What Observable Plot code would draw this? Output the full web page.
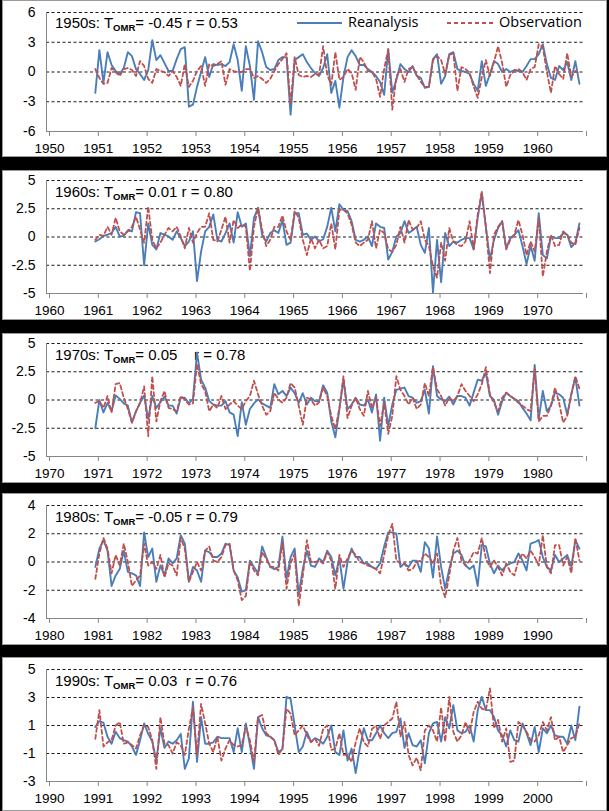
<!DOCTYPE html>
<html><head><meta charset="utf-8">
<script src="https://cdn.jsdelivr.net/npm/d3@7"></script>
<script src="https://cdn.jsdelivr.net/npm/@observablehq/plot@0.6"></script>
<style>
html,body{margin:0;padding:0;background:#000;}
#root{position:relative;width:609px;height:811px;background:#000;overflow:hidden;}
.panel{position:absolute;left:2px;width:605px;background:#fff;box-shadow:inset 0 0 0 1px #9a9a9a;}
.panel svg{position:absolute;left:0;top:0;z-index:1;}
.ttl{position:absolute;z-index:0;font:15px "Liberation Sans",Arial,sans-serif;white-space:pre;line-height:16px;color:#000;}
.ttl sub{font-size:9.5px;font-weight:bold;vertical-align:-3px;line-height:0;}
.leg{position:absolute;z-index:2;font:14px "Open Sans",sans-serif;line-height:16px;color:#000;white-space:nowrap;}
</style></head><body><div id="root"></div>
<script>
// ---- data (monthly anomalies, Jan of first year .. Dec of last year) ----
const decades = [1950, 1960, 1970, 1980, 1990];
const decadeNames = ["1950s", "1960s", "1970s", "1980s", "1990s"];
const tomrVals = ["-0.45", "0.01", "0.05", "-0.05", "0.03"];
const rVals = ["0.53", "0.80", "0.78", "0.79", "0.76"];
const yTicks1950s = [-6, -3, 0, 3, 6];
const yTicks1960s = [-5, -2.5, 0, 2.5, 5];
const yTicks1970s = [-5, -2.5, 0, 2.5, 5];
const yTicks1980s = [-4, -2, 0, 2, 4];
const yTicks1990s = [-3, -1, 1, 3, 5];
const seriesNames = ["Reanalysis", "Observation"];

const rea1950s = [
-2.1,2.2,-1.1,2.0,0.7,0.1,-0.2,0.4,2.0,1.6,0.3,-0.2,
-0.8,0.2,3.2,1.2,1.7,0.9,0.1,0.1,1.3,2.3,2.5,-3.5,
-3.3,-1.5,0.0,1.5,-0.5,0.8,0.7,0.8,0.6,1.0,2.8,1.2,
-1.9,2.6,0.6,-2.8,3.1,2.0,0.5,0.2,0.3,1.2,1.5,1.5,
-4.3,1.2,1.5,1.8,1.0,0.4,-0.1,-0.4,0.4,1.8,-2.1,-0.9,
-3.6,-0.5,1.5,2.2,1.6,0.7,0.7,0.3,0.0,-0.4,-1.0,-2.3,
2.3,-2.1,-0.8,0.8,0.3,0.0,0.6,-0.4,-0.6,-1.6,-1.5,1.3,
1.8,-1.2,-0.4,1.8,2.0,0.3,0.1,0.0,-0.2,-1.2,-1.9,1.1,
-1.4,-0.2,1.1,0.8,0.0,0.3,0.0,0.2,0.1,0.0,0.6,1.3,
1.3,1.8,2.8,0.8,-0.6,-0.8,0.6,0.2,1.0,-0.8,1.1,-1.2];
const obs1950s = [
0.3,-0.6,-1.2,-1.1,0.4,0.0,-0.4,0.3,0.4,0.2,-0.4,1.1,
0.6,-0.7,-1.1,0.3,0.1,0.0,-0.4,0.1,-0.5,-1.4,0.8,-1.5,
-0.9,0.1,0.6,-1.4,0.8,0.6,0.8,1.1,-1.3,0.3,0.1,0.0,
0.0,0.3,0.3,-0.6,-0.4,-0.7,-1.1,-0.7,0.1,0.8,1.3,1.9,
-3.3,1.5,-0.3,-0.5,-0.4,-0.5,-0.2,-0.3,2.6,-0.3,-1.3,2.0,
-0.8,-0.5,0.3,-0.1,-1.8,1.5,1.0,0.1,0.0,-0.7,-2.5,0.3,
2.3,-3.8,-0.5,0.3,-1.0,0.3,0.5,-0.3,-1.0,-1.5,-1.5,1.2,
1.6,1.2,-0.2,1.7,1.9,-1.9,0.5,0.3,-0.1,-1.5,-2.6,-0.5,
1.2,-0.4,1.0,2.6,0.9,-1.5,-0.3,0.1,0.3,0.0,-0.8,0.3,
0.5,2.8,2.5,0.0,-2.1,0.6,-0.2,-0.7,1.9,-0.5,0.1,-0.2];

const rea1960s = [
-0.4,-0.2,0.1,0.2,0.35,0.9,0.05,0.1,0.6,0.5,2.2,2.1,
-2.5,1.2,-0.7,-1.1,0.35,0.2,0.05,-0.25,0.5,-0.1,-0.8,-0.4,
0.5,-3.9,-1.3,0.5,0.9,2.0,-0.25,-0.4,0.35,1.2,-0.5,2.2,
0.9,1.2,-1.7,1.7,2.6,0.2,-0.4,0.35,0.6,0.35,1.5,-0.7,
-0.5,2.1,2.1,0.2,0.3,-0.25,0.05,-0.4,-0.2,0.9,2.6,0.5,
2.9,2.4,2.3,1.4,-0.25,-0.4,-0.25,0.05,-0.8,1.2,0.9,0.8,
-2.0,-1.3,0.05,0.35,1.4,0.35,0.6,0.9,-0.7,-1.4,0.8,-4.9,
-0.25,-4.0,0.35,-0.8,-0.4,-0.5,-0.25,-0.1,-0.1,-1.1,1.7,3.9,
0.9,-2.0,-0.25,0.8,1.4,-1.0,-0.1,0.2,0.6,-0.8,-2.4,-0.8,
-2.1,2.1,-1.6,-1.9,0.05,-0.1,-0.1,0.35,0.2,-0.9,-0.5,1.2];
const obs1960s = [
-0.25,0.2,0.1,0.9,0.2,1.7,0.5,0.2,0.5,0.9,1.8,0.65,
-0.5,2.7,-0.25,-1.0,-0.5,0.2,0.8,0.5,0.9,0.05,-1.0,0.8,
-0.5,0.35,0.9,0.9,2.1,-0.25,-0.4,0.65,1.8,-0.5,1.5,0.8,
1.1,0.9,-3.0,0.9,2.6,0.65,-0.8,-0.25,0.9,0.9,1.9,0.5,
-0.25,2.3,1.7,-0.25,-1.6,-0.1,-1.0,-0.25,-1.0,-0.8,1.2,-1.1,
2.4,2.4,2.1,1.1,-0.5,-0.8,-0.5,-0.25,1.4,-1.0,0.65,0.35,
-1.1,-1.3,-0.7,0.9,-0.5,1.5,0.65,0.8,1.4,-0.25,-0.8,-2.6,
-3.6,-0.5,-2.1,0.8,-0.4,-0.7,-0.8,-0.4,1.4,-1.1,2.0,4.0,
0.9,-3.2,0.2,0.9,1.4,-1.1,-0.25,0.2,1.5,0.2,-1.6,-0.4,
-1.3,1.7,-3.5,-1.3,0.2,-0.8,-0.7,0.5,0.2,-0.5,-0.7,0.8];

const rea1970s = [
-2.5,0.0,-1.1,-0.25,-1.0,0.4,0.1,-0.3,-0.5,-2.0,-1.0,-0.25,
0.4,-1.7,0.35,-0.7,-0.2,0.3,-0.5,-0.5,-1.2,0.2,0.2,-0.3,
0.1,4.2,1.8,1.1,-0.1,-0.4,-0.5,-0.5,-0.1,-1.1,-1.3,-3.2,
-0.2,-2.2,-0.8,-0.3,0.05,-0.3,-0.5,-0.7,1.4,0.5,0.8,0.35,
1.1,0.6,-0.25,0.6,-0.4,0.2,-0.1,-0.1,1.3,0.65,-1.9,-3.3,
-0.8,1.8,-0.8,-0.4,0.2,-0.4,-0.5,0.05,-1.1,0.5,-3.6,0.2,
-2.3,-0.4,0.9,1.0,1.1,0.35,0.2,-0.25,-0.1,0.9,-1.2,3.0,
0.35,0.05,-0.1,0.3,-0.4,0.35,0.35,0.2,-0.5,0.65,1.8,1.7,
2.4,0.35,0.0,-1.3,-0.1,0.65,0.35,0.1,-0.1,-0.7,-1.2,-1.8,
3.1,-1.7,0.8,-1.0,-0.5,0.65,0.5,0.2,-1.3,0.5,2.0,-0.5];
const obs1970s = [
-0.25,-0.1,-0.7,0.35,-1.1,1.4,1.5,0.2,-0.8,-2.0,-1.0,-0.25,
1.2,-3.2,2.1,-1.9,-0.1,0.8,-0.7,-0.8,-1.0,0.35,0.05,-0.4,
-0.3,3.2,1.4,0.8,-1.0,-0.4,-0.7,0.35,-0.8,-0.4,-0.1,-0.5,
-0.8,-0.1,0.35,1.7,0.5,-0.5,-1.3,-1.0,0.65,0.05,-0.25,0.2,
1.5,1.1,-0.5,-2.2,0.2,0.05,-0.5,-0.2,1.1,0.35,-1.4,-2.6,
-0.7,2.1,-1.6,-0.5,0.2,-0.8,-1.4,0.8,-0.7,0.2,-2.3,-0.25,
-3.0,-1.4,2.1,0.9,0.35,-0.4,0.2,-0.8,-0.4,1.5,0.35,2.9,
0.95,0.35,-0.5,0.2,-0.1,0.35,1.4,0.8,0.35,-0.1,0.5,1.4,
2.9,0.5,-0.25,-1.0,0.2,0.65,0.35,0.1,-0.25,-0.5,-0.8,-1.0,
2.7,-1.9,-1.4,-1.4,-0.5,1.1,-0.25,-2.0,-1.4,0.5,2.1,1.0];

const rea1980s = [
-0.35,0.95,1.55,0.8,-1.7,-0.95,-0.5,0.8,-0.7,-0.8,-0.95,-1.7,
2.1,0.35,0.95,-1.4,-0.25,-0.95,0.25,-0.1,0.25,1.9,1.3,-1.4,
-0.35,-0.6,-1.4,0.8,0.7,0.35,0.35,0.6,1.3,1.2,-0.6,-1.1,
-2.1,-2.0,0.1,-0.35,-0.8,1.1,0.35,-0.35,-0.5,-0.35,1.8,-1.2,
0.35,0.95,-2.3,-0.5,0.8,-0.25,-0.35,0.25,0.0,0.8,0.35,-0.95,
0.25,-1.9,0.0,0.95,0.35,0.35,-0.1,-0.1,-0.35,-0.5,-0.1,1.1,
2.1,2.1,2.0,-0.35,-0.1,-0.35,0.1,0.1,-0.7,1.4,0.95,-1.1,
1.8,-0.35,-1.9,-0.5,0.6,0.8,0.5,-0.25,-0.5,-0.25,-1.7,1.2,
1.1,-0.1,-0.8,-0.25,-0.6,-0.25,-0.1,0.0,0.6,0.1,-0.6,1.3,
1.4,1.55,0.35,-0.35,-0.6,0.5,0.0,0.25,0.5,-0.35,1.55,0.95];
const obs1980s = [
-1.2,0.6,1.7,0.95,-0.8,0.5,-0.25,1.3,0.0,-1.7,-1.3,-0.95,
1.3,-0.25,0.0,-0.5,0.5,-1.1,-0.1,-0.25,-0.95,1.7,0.95,-1.4,
-0.7,0.0,-0.6,0.8,1.1,0.1,0.0,0.35,1.2,1.3,-0.6,-1.3,
-2.7,-2.4,0.0,-0.6,-0.95,0.7,0.25,-0.35,-0.35,-0.6,1.4,-1.9,
-0.1,0.6,-3.1,-1.0,1.55,0.0,0.0,0.1,-0.1,0.7,0.1,-1.9,
0.5,-0.35,0.25,0.8,0.5,0.0,-0.1,-0.25,-0.35,-0.5,-0.8,0.5,
1.9,2.7,0.1,-0.1,-0.1,-0.6,-0.5,0.0,0.1,0.6,0.35,-0.1,
0.6,-1.7,-2.5,-0.95,0.8,1.7,0.1,-0.25,0.1,0.7,0.6,1.7,
0.25,-0.35,0.1,-0.35,-0.95,-0.1,-0.7,-0.95,0.1,0.6,0.25,0.8,
0.35,-0.25,1.9,-0.35,-0.8,1.2,1.2,-0.25,0.35,-0.8,1.7,0.1];

const rea1990s = [
0.9,1.3,1.2,0.2,-0.3,0.55,0.1,-0.05,-0.15,-0.5,-1.1,-0.05,
1.15,0.4,-0.15,-1.5,0.8,-0.6,-0.15,-0.3,-0.05,0.4,-2.1,-1.35,
2.7,-1.6,1.6,-0.3,-0.3,-0.2,0.2,0.1,0.1,0.1,-0.9,0.8,
-0.9,1.15,-0.4,-2.1,1.6,0.8,0.3,0.2,-0.05,-0.9,-0.7,3.05,
2.9,1.0,-0.9,-0.5,0.55,-0.15,0.1,-0.05,-0.3,0.2,1.0,-0.9,
-1.1,0.65,-1.5,-0.65,-2.4,-0.65,0.8,-0.05,-0.05,0.45,1.0,0.45,
0.1,0.45,0.55,1.5,-0.6,0.45,-0.4,-0.5,-0.05,-1.7,0.45,1.15,
1.25,-0.15,1.6,0.8,2.45,0.65,0.45,0.55,1.0,-0.15,2.1,3.05,
2.1,2.1,1.6,0.65,0.3,-0.5,0.65,-0.05,-0.15,1.15,0.45,-0.4,
0.9,-0.9,0.8,0.45,1.0,0.3,0.2,0.2,-0.3,1.0,-0.05,2.35];
const obs1990s = [
0.05,2.1,-0.5,-0.2,-0.05,1.0,1.25,-0.3,-0.2,-0.4,-0.65,0.3,
1.0,0.9,-0.05,-2.1,1.6,-0.3,-0.4,-1.0,-0.2,-0.4,-1.1,0.75,
2.3,-1.1,2.55,1.15,-0.3,-0.9,0.2,-1.5,-0.65,-0.05,-0.4,-0.5,
-0.4,0.9,-0.05,-1.6,1.6,1.75,0.45,0.2,-0.05,-1.1,-0.65,2.2,
1.85,0.3,0.65,1.0,0.3,-0.2,0.05,-0.45,0.75,1.0,-0.75,-0.65,
0.45,-1.1,-1.1,-1.6,-0.2,0.8,-0.2,-0.5,0.75,1.0,0.05,1.0,
1.25,1.5,2.7,0.2,1.25,-1.1,-1.85,-1.3,-2.2,0.65,1.0,0.65,
-0.15,2.3,-0.15,3.05,0.55,-0.15,0.3,1.25,0.45,1.95,2.7,2.2,
2.1,3.65,0.8,1.4,-0.15,0.8,-1.6,-1.5,1.25,1.0,0.55,-0.05,
-0.15,0.3,1.25,0.65,1.6,-0.05,0.2,-0.9,-0.4,0.1,0.2,1.15];

// ---- assemble ----
const reaAll = [rea1950s, rea1960s, rea1970s, rea1980s, rea1990s];
const obsAll = [obs1950s, obs1960s, obs1970s, obs1980s, obs1990s];
const yTicksAll = [yTicks1950s, yTicks1960s, yTicks1970s, yTicks1980s, yTicks1990s];

// layout (pixels)
const layout = [
  {top: 0,   h: 157, mt: 12, mb: 26, tt: 15},
  {top: 170, h: 150, mt: 10, mb: 27, tt: 14},
  {top: 333, h: 150, mt: 10, mb: 27, tt: 14},
  {top: 493, h: 152, mt: 12, mb: 27, tt: 16},
  {top: 657, h: 154, mt: 12, mb: 30, tt: 16}
];
const gaps = [" ", " ", "    ", " ", "  "];
const BLUE = "#4a7ebb", RED = "#c0504d";

const root = document.getElementById("root");

decades.forEach((s, p) => {
  const L = layout[p];
  const ticks = yTicksAll[p];
  const yMin = ticks[0], yMax = ticks[ticks.length - 1];
  const rea = reaAll[p].map((v, i) => ({t: s + 1 + i / 12, v}));
  const obs = obsAll[p].map((v, i) => ({t: s + 1 + i / 12, v}));
  const years = d3.range(s, s + 12);

  const panel = document.createElement("div");
  panel.className = "panel";
  panel.style.top = L.top + "px";
  panel.style.height = L.h + "px";
  root.appendChild(panel);

  const ttl = document.createElement("div");
  ttl.className = "ttl";
  ttl.style.left = "53px";
  ttl.style.top = L.tt + "px";
  ttl.innerHTML = `${decadeNames[p]}: T<sub>OMR</sub>= ${tomrVals[p]}${gaps[p]}r = ${rVals[p]}`;
  panel.appendChild(ttl);

  const svg = Plot.plot({
    width: 605,
    height: L.h,
    marginLeft: 44,
    marginRight: 24,
    marginTop: L.mt,
    marginBottom: L.mb,
    style: {background: "transparent", fontFamily: "'Liberation Sans', Arial, sans-serif", fontSize: "14px", color: "#000", overflow: "visible"},
    x: {domain: [s, s + 11]},
    y: {domain: [yMin, yMax]},
    marks: [
      Plot.ruleY(ticks.slice(1), {stroke: "#1a1a1a", strokeWidth: 1.1, strokeDasharray: "3,2.5"}),
      Plot.ruleX([s], {stroke: "#868686", strokeWidth: 1}),
      Plot.ruleY([yMin], {stroke: "#868686", strokeWidth: 1}),
      Plot.axisX({ticks: years, tickSize: 5, tickPadding: 7, stroke: "#868686", fill: "#000",
        tickFormat: d => (d < s + 11 ? String(d) : ""), label: null, fontSize: 13.5, dx: 3}),
      Plot.axisY({ticks: ticks, tickSize: 0, tickPadding: 11, fill: "#000",
        tickFormat: d => String(d), label: null, fontSize: 14}),
      Plot.line(rea, {x: "t", y: "v", stroke: BLUE, strokeWidth: 1.9}),
      Plot.line(obs, {x: "t", y: "v", stroke: RED, strokeWidth: 1.8, strokeDasharray: "4,3"})
    ]
  });
  panel.appendChild(svg);

  if (p === 0) {
    const items = [
      {x1: 295, x2: 340, tx: 346, color: BLUE, dash: null, name: seriesNames[0]},
      {x1: 445, x2: 491, tx: 497, color: RED, dash: "4,3", name: seriesNames[1]}
    ];
    items.forEach(it => {
      const sw = document.createElementNS("http://www.w3.org/2000/svg", "svg");
      sw.setAttribute("width", it.x2 - it.x1);
      sw.setAttribute("height", 6);
      sw.style.position = "absolute";
      sw.style.left = it.x1 + "px";
      sw.style.top = "20px";
      sw.style.zIndex = 2;
      const ln = document.createElementNS("http://www.w3.org/2000/svg", "line");
      ln.setAttribute("x1", 0); ln.setAttribute("x2", it.x2 - it.x1);
      ln.setAttribute("y1", 3); ln.setAttribute("y2", 3);
      ln.setAttribute("stroke", it.color); ln.setAttribute("stroke-width", 2);
      if (it.dash) ln.setAttribute("stroke-dasharray", it.dash);
      sw.appendChild(ln);
      panel.appendChild(sw);
      const t = document.createElement("div");
      t.className = "leg";
      t.style.left = it.tx + "px";
      t.style.top = "14px";
      t.style.fontSize = "14.5px";
      t.textContent = it.name;
      panel.appendChild(t);
    });
  }
});
</script></body></html>
